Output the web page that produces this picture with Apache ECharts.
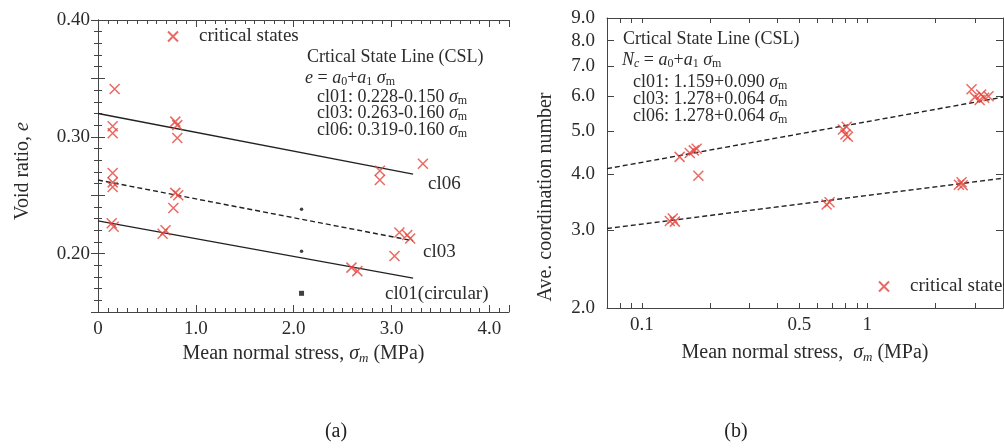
<!DOCTYPE html>
<html><head><meta charset="utf-8">
<script src="https://cdn.jsdelivr.net/npm/echarts@6/dist/echarts.min.js"></script>
<style>html,body{margin:0;padding:0;background:#fff}#c{width:1004px;height:448px}</style>
</head><body><div id="c"></div>
<script>
// ---- data ----
const critLeft = [
  [0.17,0.341],[0.15,0.309],[0.15,0.303],[0.79,0.313],[0.81,0.310],[0.81,0.299],
  [0.15,0.269],[0.15,0.261],[0.15,0.257],[0.79,0.252],[0.82,0.250],[0.77,0.239],
  [0.14,0.226],[0.16,0.223],[0.66,0.217],[0.69,0.220],
  [2.88,0.271],[2.88,0.263],[3.32,0.277],
  [3.08,0.218],[3.16,0.216],[3.19,0.213],[3.03,0.198],
  [2.59,0.188],[2.65,0.185]
];
const dotsLeft = [[2.08,0.238],[2.08,0.202]];
const squareLeft = [[2.08,0.166]];
const cl06Line = [[0,0.320],[3.22,0.268]];
const cl03Line = [[0,0.263],[3.22,0.211]];
const cl01Line = [[0,0.228],[3.22,0.179]];
const leftLineNames = ['cl06','cl03','cl01(circular)'];
const leftYLabels = [0.2,0.3,0.4];

const critRight = [
  [0.133,3.14],[0.137,3.18],[0.140,3.13],
  [0.147,4.38],[0.163,4.47],[0.170,4.53],[0.175,4.57],[0.178,3.97],
  [0.66,3.42],[0.68,3.46],
  [0.78,5.05],[0.80,4.92],[0.82,4.86],[0.81,5.12],
  [2.55,3.79],[2.62,3.84],[2.65,3.78],
  [2.90,6.22],[3.00,5.97],[3.15,5.88],[3.30,5.95],[3.45,6.00],[3.20,6.05]
];
const upperLine = [[0.07,4.12],[4.0,5.97]];
const lowerLine = [[0.07,3.02],[4.0,3.92]];
const rightXLabels = [0.1,0.5,1];
const rightXTicks = [0.08,0.09,0.1,0.2,0.3,0.4,0.5,0.6,0.7,0.8,0.9,1,2,3,4];
const rightYLabels = [2,3,4,5,6,7,8,9];

// ---- styles ----
const FF = 'Liberation Serif';
const TXT = '#2b2b2b';
const RED = '#e5453c';
const CROSS = 'path://M0,0L10,10M10,0L0,10';
const rich = {
  n:{fontFamily:FF,fontSize:18,color:TXT,lineHeight:20},
  i:{fontFamily:FF,fontSize:18,color:TXT,fontStyle:'italic',lineHeight:20},
  s:{fontFamily:FF,fontSize:12,color:TXT,lineHeight:12,verticalAlign:'bottom'},
  si:{fontFamily:FF,fontSize:12,color:TXT,fontStyle:'italic',lineHeight:12,verticalAlign:'bottom'}
};
const richName = {
  n:{fontFamily:FF,fontSize:20,color:TXT,lineHeight:22},
  i:{fontFamily:FF,fontSize:20,color:TXT,fontStyle:'italic',lineHeight:22},
  si:{fontFamily:FF,fontSize:13,color:TXT,fontStyle:'italic',lineHeight:13,verticalAlign:'bottom'}
};
const axLine = {show:true,lineStyle:{color:'#444',width:1}};
const tickStyle = {color:'#444'};
const lab = {fontFamily:FF,fontSize:19,color:TXT};

function ann(text,left,cy){
  return {text:text,left:left,top:cy-10,padding:0,textStyle:{rich:rich,fontSize:18,fontFamily:FF,color:TXT,fontWeight:'normal'}};
}

const option = {
  animation:false,
  backgroundColor:'#fff',
  title:[
    {text:'(a)',left:336,top:422,textAlign:'center',padding:0,textStyle:{fontFamily:FF,fontSize:20,fontWeight:'normal',color:'#222'}},
    {text:'(b)',left:736,top:422,textAlign:'center',padding:0,textStyle:{fontFamily:FF,fontSize:20,fontWeight:'normal',color:'#222'}},
    ann('{n|Crtical State Line (CSL)}',307,57),
    ann('{i|e}{n| = }{i|a}{s|0}{n|+}{i|a}{s|1}{n| }{i|σ}{s|m}',305,78),
    ann('{n|cl01: 0.228-0.150 }{i|σ}{s|m}',317,97),
    ann('{n|cl03: 0.263-0.160 }{i|σ}{s|m}',317,113),
    ann('{n|cl06: 0.319-0.160 }{i|σ}{s|m}',317,130),
    ann('{n|Crtical State Line (CSL)}',623,39),
    ann('{i|N}{si|c}{n| = }{i|a}{s|0}{n|+}{i|a}{s|1}{n| }{i|σ}{s|m}',622,60),
    ann('{n|cl01: 1.159+0.090 }{i|σ}{s|m}',633,82),
    ann('{n|cl03: 1.278+0.064 }{i|σ}{s|m}',633,99),
    ann('{n|cl06: 1.278+0.064 }{i|σ}{s|m}',633,116)
  ],
  legend:[
    {left:167,top:27,padding:0,itemWidth:10,itemHeight:10,data:['critical states'],
     textStyle:{fontFamily:FF,fontSize:19,color:TXT,padding:[0,0,0,16]}},
    {left:878,top:277,padding:0,itemWidth:10,itemHeight:10,data:['critical states'],
     textStyle:{fontFamily:FF,fontSize:19,color:TXT,padding:[0,0,0,16]}}
  ],
  grid:[
    {left:98,top:20,width:411,height:292},
    {left:607,top:18,width:396,height:290}
  ],
  xAxis:[
    {gridIndex:0,type:'value',min:0,max:4.2,interval:1,position:'bottom',
     name:'{n|Mean normal stress, }{i|σ}{si|m}{n| (MPa)}',nameLocation:'middle',nameGap:30,
     nameTextStyle:{rich:richName},
     axisLine:axLine,axisTick:{inside:true,length:7,lineStyle:tickStyle},
     minorTick:{show:true,splitNumber:10,length:4,lineStyle:tickStyle},
     splitLine:{show:false},minorSplitLine:{show:false},
     axisLabel:Object.assign({margin:8,showMaxLabel:false,formatter:v=>v===0?'0':v.toFixed(1)},lab)},
    {gridIndex:0,type:'value',min:0,max:4.2,interval:1,position:'top',
     axisLine:axLine,axisTick:{inside:true,length:7,lineStyle:tickStyle},
     minorTick:{show:true,splitNumber:10,length:4,lineStyle:tickStyle},
     splitLine:{show:false},axisLabel:{show:false}},
    {gridIndex:1,type:'log',logBase:10,min:0.07,max:4,position:'bottom',
     name:'{n|Mean normal stress,  }{i|σ}{si|m}{n| (MPa)}',nameLocation:'middle',nameGap:34,
     nameTextStyle:{rich:richName},
     axisLine:axLine,axisTick:{inside:true,length:5,customValues:rightXTicks,lineStyle:tickStyle},
     splitLine:{show:false},minorTick:{show:false},
     axisLabel:Object.assign({margin:8,customValues:rightXLabels,formatter:v=>String(v)},lab)},
    {gridIndex:1,type:'log',logBase:10,min:0.07,max:4,position:'top',
     axisLine:axLine,axisTick:{inside:true,length:5,customValues:rightXTicks,lineStyle:tickStyle},
     splitLine:{show:false},axisLabel:{show:false}}
  ],
  yAxis:[
    {gridIndex:0,type:'value',min:0.15,max:0.40,interval:0.05,position:'left',
     name:'{n|Void ratio, }{i|e}',nameLocation:'middle',nameGap:64,
     nameTextStyle:{rich:richName,padding:[0,10,0,0]},
     axisLine:axLine,axisTick:{inside:true,length:7,lineStyle:tickStyle},
     minorTick:{show:true,splitNumber:5,length:4,lineStyle:tickStyle},
     splitLine:{show:false},minorSplitLine:{show:false},
     axisLabel:Object.assign({margin:8,customValues:leftYLabels,formatter:v=>v.toFixed(2)},lab)},
    {gridIndex:0,type:'value',min:0.15,max:0.40,interval:0.05,position:'right',
     axisLine:axLine,axisTick:{inside:true,length:7,lineStyle:tickStyle},
     minorTick:{show:true,splitNumber:5,length:4,lineStyle:tickStyle},
     splitLine:{show:false},axisLabel:{show:false}},
    {gridIndex:1,type:'log',logBase:10,min:2,max:9,position:'left',
     name:'{n|Ave. coordination number}',nameLocation:'middle',nameGap:50,
     nameTextStyle:{rich:richName,padding:[0,68,0,0]},
     axisLine:axLine,axisTick:{inside:true,length:7,customValues:rightYLabels,lineStyle:tickStyle},
     splitLine:{show:false},minorTick:{show:false},
     axisLabel:Object.assign({margin:12,customValues:rightYLabels,formatter:v=>Number(v).toFixed(1)},lab)},
    {gridIndex:1,type:'log',logBase:10,min:2,max:9,position:'right',
     axisLine:axLine,axisTick:{inside:true,length:7,customValues:rightYLabels,lineStyle:tickStyle},
     splitLine:{show:false},axisLabel:{show:false}}
  ],
  series:[
    {name:'critical states',type:'scatter',xAxisIndex:0,yAxisIndex:0,data:critLeft,
     symbol:CROSS,symbolSize:10,itemStyle:{color:'rgba(0,0,0,0)',borderColor:RED,borderWidth:1.5},z:3},
    {type:'line',xAxisIndex:0,yAxisIndex:0,data:cl06Line,showSymbol:false,
     lineStyle:{color:'#222',width:1.4},
     endLabel:{show:true,formatter:leftLineNames[0],offset:[7,10],fontFamily:FF,fontSize:19,color:TXT}},
    {type:'line',xAxisIndex:0,yAxisIndex:0,data:cl03Line,showSymbol:false,
     lineStyle:{color:'#222',width:1.4,type:[5,3]},
     endLabel:{show:true,formatter:leftLineNames[1],offset:[2,11],fontFamily:FF,fontSize:19,color:TXT}},
    {type:'line',xAxisIndex:0,yAxisIndex:0,data:cl01Line,showSymbol:false,
     lineStyle:{color:'#222',width:1.4},
     endLabel:{show:true,formatter:leftLineNames[2],offset:[-36,16],fontFamily:FF,fontSize:19,color:TXT}},
    {type:'scatter',xAxisIndex:0,yAxisIndex:0,data:dotsLeft,symbol:'circle',symbolSize:3.5,itemStyle:{color:'#111'}},
    {type:'scatter',xAxisIndex:0,yAxisIndex:0,data:squareLeft,symbol:'rect',symbolSize:5,itemStyle:{color:'#111'}},
    {name:'critical states',type:'scatter',xAxisIndex:2,yAxisIndex:2,data:critRight,
     symbol:CROSS,symbolSize:10,itemStyle:{color:'rgba(0,0,0,0)',borderColor:RED,borderWidth:1.5},z:3},
    {type:'line',xAxisIndex:2,yAxisIndex:2,data:upperLine,showSymbol:false,
     lineStyle:{color:'#222',width:1.4,type:[5,3]}},
    {type:'line',xAxisIndex:2,yAxisIndex:2,data:lowerLine,showSymbol:false,
     lineStyle:{color:'#222',width:1.4,type:[5,3]}}
  ]
};
const chart = echarts.init(document.getElementById('c'),null,{renderer:'canvas'});
chart.setOption(option);
</script></body></html>
